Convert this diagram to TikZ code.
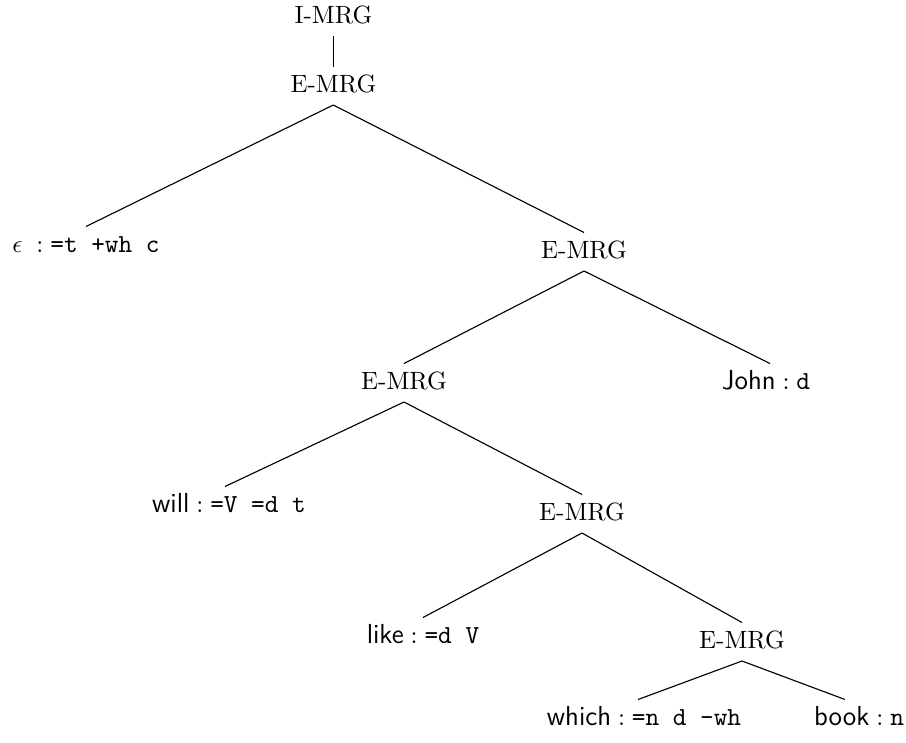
\documentclass[tikz,border=0pt]{standalone}
\usetikzlibrary{calc}
\newcommand{\mrglab}[1]{#1}
\newcommand{\ttfeat}[1]{{\fontsize{10.4}{12}\selectfont\texttt{#1}}}
\newcommand{\leaflab}[2]{{\fontsize{11}{13}\selectfont\textsf{#1}}$\;:\;$\ttfeat{#2}}
\begin{document}
\begin{tikzpicture}[x=0.4pt,y=-0.4pt,
  tn/.style={anchor=base,inner sep=3pt,text height=7pt,text depth=2pt},
  edge/.style={line width=0.45pt}]
\useasboundingbox (0,0) rectangle (906,742);
\node[tn] (i1) at (333.3,23) {\mrglab{I-MRG}};
\node[tn] (e1) at (333.3,92) {\mrglab{E-MRG}};
\node[tn] (eps) at (86,252) {$\epsilon\;:\;$\ttfeat{=t +wh c}};
\node[tn] (e2) at (584,258) {\mrglab{E-MRG}};
\node[tn] (e3) at (404,389) {\mrglab{E-MRG}};
\node[tn] (john) at (766,389) {\leaflab{John}{d}};
\node[tn] (will) at (229,512) {\leaflab{will}{=V =d t}};
\node[tn] (e4) at (582,520) {\mrglab{E-MRG}};
\node[tn] (like) at (423,643) {\leaflab{like}{=d V}};
\node[tn] (e5) at (742,648) {\mrglab{E-MRG}};
\node[tn] (which) at (644,725) {\leaflab{which}{=n d -wh}};
\node[tn] (book) at (859,725) {\leaflab{book}{n}};
\draw[edge] (i1.south) -- (e1.north);
\draw[edge] (e1.south) -- (eps.north);
\draw[edge] (e1.south) -- (e2.north);
\draw[edge] (e2.south) -- (e3.north);
\draw[edge] (e2.south) -- ([xshift=1.6pt]john.north);
\draw[edge] (e3.south) -- ([xshift=-1.6pt]will.north);
\draw[edge] (e3.south) -- (e4.north);
\draw[edge] (e4.south) -- (like.north);
\draw[edge] (e4.south) -- (e5.north);
\draw[edge] (e5.south) -- ([xshift=-2.4pt]which.north);
\draw[edge] (e5.south) -- ([xshift=-5.6pt]book.north);
\end{tikzpicture}
\end{document}
